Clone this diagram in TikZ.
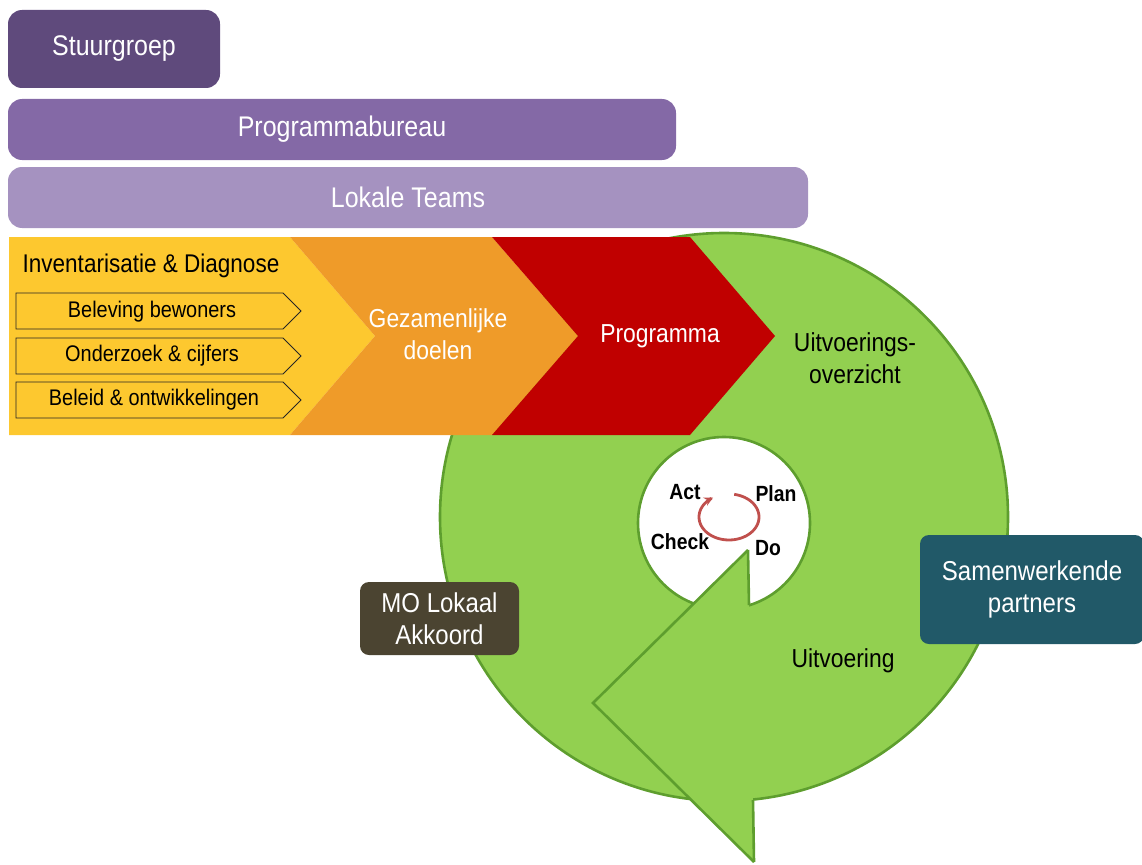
\documentclass[tikz,border=0pt]{standalone}
\usepackage{fontspec}
\setmainfont{Liberation Sans}[FakeStretch=0.88]
\usetikzlibrary{arrows.meta}
\definecolor{pdark}{HTML}{5F4A7C}
\definecolor{pmid}{HTML}{8469A6}
\definecolor{plight}{HTML}{A592C0}
\definecolor{cyel}{HTML}{FDC82F}
\definecolor{corg}{HTML}{EF9B29}
\definecolor{cred}{HTML}{C00000}
\definecolor{cgreen}{HTML}{92D050}
\definecolor{cgreenline}{HTML}{5E9E2E}
\definecolor{cbrown}{HTML}{4B4431}
\definecolor{cteal}{HTML}{215968}
\definecolor{cpdca}{HTML}{C0504D}
\begin{document}
\begin{tikzpicture}[x=1pt,y=-1pt,
  bar/.style={rounded corners=14pt, inner sep=0pt, text=white, font=\fontsize{28.4}{32}\selectfont},
  whitelbl/.style={text=white, align=center, font=\fontsize{26}{32}\selectfont},
  blacklbl/.style={text=black, align=center, font=\fontsize{26}{32}\selectfont},
  sublbl/.style={text=black, font=\fontsize{22.6}{26}\selectfont},
  subbox/.style={fill=cyel, draw=black!85, line width=0.8pt},
  pdca/.style={text=black, font=\bfseries\fontsize{22}{24}\selectfont},
  ring/.style={draw=cgreenline, line width=2.6pt},
  infobox/.style={rounded corners=9pt, text=white, align=center, inner sep=0pt, font=\fontsize{27.3}{32}\selectfont}]
\useasboundingbox (0,0) rectangle (1142,864);

% top bars
\node[bar, fill=pdark, minimum width=212pt, minimum height=78pt] (stuur) at (114,49) {Stuurgroep};
\node[bar, fill=pmid, minimum width=668pt, minimum height=61pt] (pbureau) at (342,129.5) {Programmabureau};
\node[bar, fill=plight, minimum width=800pt, minimum height=61pt] (lteams) at (408,197.5) {Lokale Teams};

% green ring
\coordinate (oc) at (724,517);
\coordinate (ic) at (724,523);
\fill[cgreen, even odd rule] (oc) circle[radius=284pt] (ic) circle[radius=86pt];
\draw[ring] (oc) circle[radius=284pt];
\draw[ring] (ic) circle[radius=86pt];
% big arrow head
\coordinate (tip) at (748,550);
\coordinate (lpt) at (593,703);
\coordinate (bpt) at (754,862);
\fill[cgreen] (tip) -- (lpt) -- (bpt) -- cycle;
\draw[ring, line join=miter] (tip) -- (lpt) -- (bpt);
\coordinate (vin) at (749,605);
\coordinate (vout) at (753,800);
\draw[ring] (tip) -- (vin);
\draw[ring] (bpt) -- (vout);

% chevrons
\fill[cyel] (9,237) -- (290,237) -- (375,336) -- (290,435) -- (9,435) -- cycle;
\fill[corg] (290,237) -- (492,237) -- (578,336) -- (492,435) -- (290,435) -- (375,336) -- cycle;
\fill[cred] (492,237) -- (690,237) -- (775,336) -- (690,435) -- (492,435) -- (578,336) -- cycle;

\node[text=black, font=\fontsize{25.6}{28}\selectfont] (inv) at (151,266) {Inventarisatie \& Diagnose};
\draw[subbox] (16,293) -- (283,293) -- (301,311) -- (283,329) -- (16,329) -- cycle;
\draw[subbox] (16,338) -- (283,338) -- (301,356) -- (283,374) -- (16,374) -- cycle;
\draw[subbox] (16,382) -- (283,382) -- (301,400) -- (283,418) -- (16,418) -- cycle;
\node[sublbl] (bel) at (152,312) {Beleving bewoners};
\node[sublbl] (ond) at (152,356) {Onderzoek \& cijfers};
\node[sublbl] (bld) at (154,400) {Beleid \& ontwikkelingen};

\node[whitelbl] (gez) at (438,334) {Gezamenlijke\\doelen};
\node[whitelbl] (prog) at (660,336) {Programma};
\node[blacklbl] (uitov) at (855,358) {Uitvoerings-\\overzicht};
\node[blacklbl] (uitv) at (843,661) {Uitvoering};

% PDCA
\draw[cpdca, line width=2.8pt, -{Stealth[length=9pt,width=9pt]}]
  plot[domain=-80:238, samples=60, smooth] ({729+30*cos(\x)}, {517+23*sin(\x)});
\node[pdca] (act) at (685,492) {Act};
\node[pdca] (plan) at (776,494) {Plan};
\node[pdca] (check) at (680,542) {Check};
\node[pdca] (do) at (768,548) {Do};

% side boxes
\node[infobox, fill=cbrown, minimum width=159pt, minimum height=73pt] (mo) at (439.5,618.5) {MO Lokaal\\Akkoord};
\node[infobox, fill=cteal, minimum width=224pt, minimum height=109pt] (sam) at (1032,589.5) {Samenwerkende\\partners};
\end{tikzpicture}
\end{document}
